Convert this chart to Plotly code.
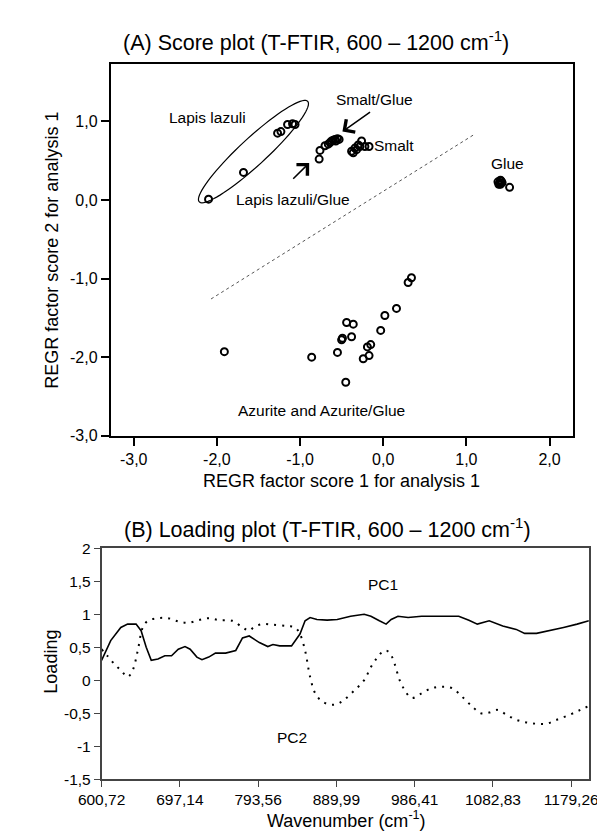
import numpy as np
import plotly.graph_objects as go

W, H = 605, 832
FONT = "Liberation Sans, Arial, sans-serif"

# ---- (A) score plot data ----
lapis_x = [-2.10, -1.68, -1.27, -1.23, -1.15, -1.09, -1.06]
lapis_y = [0.01, 0.35, 0.85, 0.87, 0.96, 0.97, 0.96]

lapis_glue_x = [-0.77, -0.76, -0.70, -0.66, -0.64, -0.62, -0.60, -0.58, -0.57, -0.55, -0.53]
lapis_glue_y = [0.52, 0.63, 0.69, 0.71, 0.73, 0.75, 0.76, 0.77, 0.75, 0.78, 0.77]

smalt_x = [-0.38, -0.36, -0.34, -0.32, -0.30, -0.28, -0.26, -0.22, -0.17]
smalt_y = [0.62, 0.60, 0.66, 0.64, 0.70, 0.68, 0.75, 0.68, 0.68]

glue_x = [1.38, 1.39, 1.40, 1.41, 1.42, 1.43, 1.41, 1.52]
glue_y = [0.23, 0.20, 0.21, 0.20, 0.24, 0.22, 0.25, 0.16]

azurite_x = [-1.91, -0.86, -0.55, -0.50, -0.49, -0.44, -0.36, -0.38, -0.45, -0.24,
             -0.17, -0.19, -0.15, -0.03, 0.02, 0.16, 0.30, 0.34]
azurite_y = [-1.93, -2.00, -1.94, -1.78, -1.76, -1.56, -1.58, -1.74, -2.32, -2.02,
             -1.98, -1.87, -1.84, -1.66, -1.47, -1.38, -1.05, -0.99]

score_xticks = [-3, -2, -1, 0, 1, 2]
score_xticktext = ["-3,0", "-2,0", "-1,0", "0,0", "1,0", "2,0"]
score_yticks = [1, 0, -1, -2, -3]
score_yticktext = ["1,0", "0,0", "-1,0", "-2,0", "-3,0"]

# ---- (B) loading plot data ----
pc1_wn = [600.7, 611.96, 624.4, 632.8, 643.2, 649.4, 655.7, 661.9, 670.2, 678.6,
          686.9, 695.2, 703.5, 709.8, 718.1, 724.4, 732.7, 741.0, 753.5, 766.0,
          774.3, 782.6, 795.1, 805.5, 811.8, 820.1, 834.7, 845.1, 851.4, 857.6,
          866.0, 878.5, 891.0, 907.5, 924.2, 932.5, 942.9, 951.2, 957.5, 965.8,
          978.3, 994.9, 1019.9, 1040.7, 1053.2, 1063.6, 1078.2, 1094.9, 1111.5,
          1121.9, 1136.5, 1153.1, 1169.8, 1186.5, 1201.0]
pc1_val = [0.30, 0.60, 0.80, 0.85, 0.85, 0.75, 0.50, 0.30, 0.32, 0.37,
           0.37, 0.47, 0.51, 0.47, 0.35, 0.31, 0.35, 0.41, 0.41, 0.45,
           0.64, 0.67, 0.57, 0.51, 0.54, 0.52, 0.52, 0.70, 0.90, 0.95,
           0.92, 0.91, 0.92, 0.97, 1.00, 0.97, 0.90, 0.85, 0.92, 0.97,
           0.95, 0.97, 0.97, 0.97, 0.91, 0.85, 0.90, 0.82, 0.77,
           0.71, 0.71, 0.75, 0.80, 0.85, 0.90]

pc2_wn = [600.7, 607.8, 616.1, 624.4, 632.8, 639.0, 645.3, 651.5, 657.8, 670.2,
          682.7, 695.2, 707.7, 720.2, 732.7, 745.2, 761.8, 774.3, 782.6, 788.9,
          799.3, 811.8, 828.4, 838.9, 845.1, 851.4, 857.6, 863.9, 872.2, 882.6,
          891.0, 899.2, 911.7, 924.2, 932.5, 940.8, 949.2, 955.4, 961.6, 967.9,
          974.1, 982.5, 994.9, 1007.4, 1019.9, 1032.4, 1044.9, 1057.4, 1067.8,
          1078.2, 1088.6, 1099.0, 1111.5, 1124.0, 1136.5, 1149.0, 1161.5,
          1178.1, 1190.6, 1201.0]
pc2_val = [0.47, 0.37, 0.25, 0.15, 0.05, 0.15, 0.45, 0.80, 0.90, 0.94,
           0.94, 0.89, 0.87, 0.91, 0.94, 0.91, 0.90, 0.80, 0.75, 0.81,
           0.85, 0.84, 0.82, 0.80, 0.70, 0.45, 0.05, -0.20, -0.32, -0.37,
           -0.36, -0.30, -0.16, 0.00, 0.20, 0.35, 0.45, 0.42, 0.25, 0.00,
           -0.15, -0.27, -0.20, -0.12, -0.10, -0.12, -0.25, -0.40, -0.50,
           -0.49, -0.45, -0.52, -0.60, -0.64, -0.66, -0.66, -0.60,
           -0.52, -0.45, -0.39]

load_xticks = [600.72, 697.14, 793.56, 889.99, 986.41, 1082.83, 1179.26]
load_xticktext = ["600,72", "697,14", "793,56", "889,99", "986,41", "1082,83", "1179,26"]
load_yticks = [2, 1.5, 1, 0.5, 0, -0.5, -1, -1.5]
load_yticktext = ["2", "1,5", "1", "0,5", "0", "-0,5", "-1", "-1,5"]

# pixel boxes of the two panels
A_left, A_right, A_top, A_bot = 83.3, 572, 48, 428
B_left, B_right, B_top, B_bot = 73.6, 589, 543, 779
A_xr = [-3.276, 2.28]
A_yr = [-3.0, 1.73]


def px(x):
    return x / W


def py(y):
    return 1 - y / H


fig = go.Figure()

marker = dict(symbol="circle-open", size=7, color="black", line=dict(width=2, color="black"))
for xs, ys in [(lapis_x, lapis_y), (lapis_glue_x, lapis_glue_y), (smalt_x, smalt_y),
               (glue_x, glue_y), (azurite_x, azurite_y)]:
    fig.add_trace(go.Scatter(x=xs, y=ys, mode="markers", marker=marker,
                             showlegend=False, xaxis="x", yaxis="y"))

fig.add_trace(go.Scatter(x=pc1_wn, y=pc1_val, mode="lines",
                         line=dict(color="black", width=1.6),
                         showlegend=False, xaxis="x2", yaxis="y2"))
fig.add_trace(go.Scatter(x=pc2_wn, y=pc2_val, mode="lines", line_shape="spline",
                         line=dict(color="black", width=2, dash="2px,6px"),
                         showlegend=False, xaxis="x2", yaxis="y2"))

# ellipse around lapis lazuli (built in pixel space, converted to data units)
sx = (A_right - A_left) / (A_xr[1] - A_xr[0])
sy = (A_bot - A_top) / (A_yr[1] - A_yr[0])
cx, cy = -1.56, 0.615
ang = np.arctan2(102.0, 114.3)
a_px, b_px = 77.0, 14.0
t = np.linspace(0, 2 * np.pi, 80)
ex = a_px * np.cos(t) * np.cos(ang) - b_px * np.sin(t) * np.sin(ang)
ey = a_px * np.cos(t) * np.sin(ang) + b_px * np.sin(t) * np.cos(ang)
path = "M " + " L ".join(f"{cx + u / sx:.4f},{cy + v / sy:.4f}" for u, v in zip(ex, ey)) + " Z"

shapes = [
    dict(type="path", path=path, xref="x", yref="y", line=dict(color="black", width=1.2)),
    dict(type="line", xref="x", yref="y", x0=-2.07, y0=-1.26, x1=1.09, y1=0.83,
         line=dict(color="#555555", width=1, dash="dot")),
]

txt = dict(family=FONT, size=15.5, color="black")


def paper_text(text, x, y, size, angle=0, xanchor="center"):
    return dict(text=text, x=px(x), y=py(y), xref="paper", yref="paper",
                xanchor=xanchor, yanchor="middle", textangle=angle, showarrow=False,
                font=dict(family=FONT, size=size, color="black"))


annotations = [
    dict(text="Lapis lazuli", x=-2.11, y=1.05, xref="x", yref="y", showarrow=False, font=txt),
    dict(text="Smalt/Glue", x=-0.11, y=1.28, xref="x", yref="y", showarrow=False, font=txt),
    dict(text="Smalt", x=-0.13, y=0.69, xref="x", yref="y", xanchor="left", showarrow=False, font=txt),
    dict(text="Glue", x=1.49, y=0.46, xref="x", yref="y", showarrow=False, font=txt),
    dict(text="Lapis lazuli/Glue", x=-1.08, y=0.01, xref="x", yref="y", showarrow=False, font=txt),
    dict(text="Azurite and Azurite/Glue", x=-0.74, y=-2.68, xref="x", yref="y", showarrow=False, font=txt),
    dict(text="", x=-0.49, y=0.87, ax=-0.14, ay=1.13, xref="x", yref="y", axref="x", ayref="y",
         showarrow=True, arrowhead=4, arrowsize=2, arrowwidth=1.5, arrowcolor="black"),
    dict(text="", x=-0.89, y=0.47, ax=-1.10, ay=0.25, xref="x", yref="y", axref="x", ayref="y",
         showarrow=True, arrowhead=4, arrowsize=2, arrowwidth=1.5, arrowcolor="black"),
    dict(text="PC1", x=947.9, y=1.45, xref="x2", yref="y2", showarrow=False, font=txt),
    dict(text="PC2", x=834.7, y=-0.87, xref="x2", yref="y2", showarrow=False, font=txt),
    # panel titles
    paper_text("(A) Score plot (T-FTIR, 600 – 1200 cm<sup>-1</sup>)", 94.5, 25, 21.5, xanchor="left"),
    paper_text("(B) Loading plot (T-FTIR, 600 – 1200 cm<sup>-1</sup>)", 95.7, 522, 21.5, xanchor="left"),
    # axis titles
    paper_text("REGR factor score 1 for analysis 1", 327, 474, 18),
    paper_text("REGR factor score 2 for analysis 1", 21, 238, 18, angle=-90),
    paper_text("Wavenumber (cm<sup>-1</sup>)", 333, 820, 18),
    paper_text("Loading", 20, 659, 18, angle=-90),
]

tickfont = dict(family=FONT, size=16, color="black")
tickfont_b = dict(family=FONT, size=15.5, color="black")

fig.update_layout(
    width=W, height=H,
    margin=dict(l=0, r=0, t=0, b=0),
    paper_bgcolor="white", plot_bgcolor="white",
    showlegend=False,
    shapes=shapes, annotations=annotations,
    xaxis=dict(domain=[px(A_left), px(A_right)], range=A_xr, anchor="y",
               tickvals=score_xticks, ticktext=score_xticktext, tickfont=tickfont,
               ticks="outside", ticklen=8, tickwidth=1.5, tickcolor="black",
               showline=True, linecolor="black", linewidth=2, mirror=True,
               showgrid=False, zeroline=False),
    yaxis=dict(domain=[py(A_bot), py(A_top)], range=A_yr, anchor="x",
               tickvals=score_yticks, ticktext=score_yticktext, tickfont=tickfont,
               ticks="outside", ticklen=8, tickwidth=1.5, tickcolor="black",
               showline=True, linecolor="black", linewidth=2, mirror=True,
               showgrid=False, zeroline=False),
    xaxis2=dict(domain=[px(B_left), px(B_right)], range=[600.72, 1201], anchor="y2",
                tickvals=load_xticks, ticktext=load_xticktext, tickfont=tickfont_b,
                ticks="outside", ticklen=6, tickwidth=1.2, tickcolor="#444444",
                showline=True, linecolor="#444444", linewidth=1.5, mirror=True,
                showgrid=False, zeroline=False),
    yaxis2=dict(domain=[py(B_bot), py(B_top)], range=[-1.5, 2], anchor="x2",
                tickvals=load_yticks, ticktext=load_yticktext, tickfont=tickfont_b,
                ticks="outside", ticklen=6, tickwidth=1.2, tickcolor="#444444",
                showline=True, linecolor="#444444", linewidth=1.5, mirror=True,
                showgrid=False, zeroline=False),
)

fig.write_html("out.html")
